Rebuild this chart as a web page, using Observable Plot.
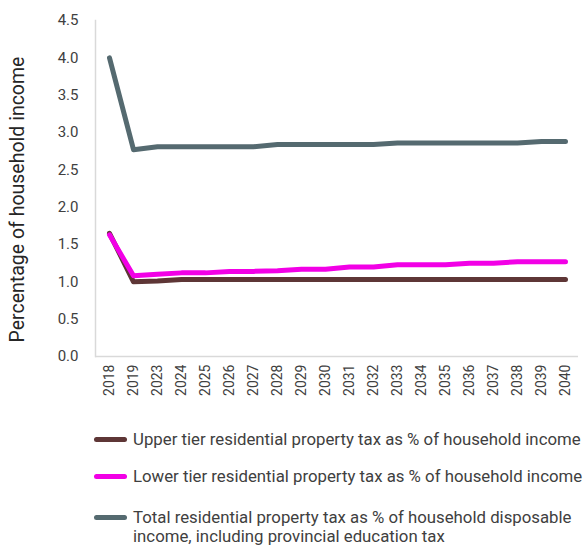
<!DOCTYPE html>
<html>
<head>
<meta charset="utf-8">
<script src="https://cdn.jsdelivr.net/npm/d3@7"></script>
<script src="https://cdn.jsdelivr.net/npm/@observablehq/plot@0.6"></script>
<style>
  body { margin: 0; background: #fff; font-family: Roboto, "Noto Sans", sans-serif; }
  #chart { width: 584px; }
  .legend { margin-left: 94px; color: #404040; font-size: 16.8px; }
  .row { display: flex; align-items: flex-start; }
  .sw { width: 33px; height: 5px; border-radius: 3px; flex: none; margin-right: 6px; }
  .txt { line-height: 19px; width: 451px; }
</style>
</head>
<body>
<div id="chart"></div>
<script>
const years = ["2018","2019","2023","2024","2025","2026","2027","2028","2029","2030","2031","2032","2033","2034","2035","2036","2037","2038","2039","2040"];
const upperTier = [1.65,1.00,1.01,1.03,1.03,1.03,1.03,1.03,1.03,1.03,1.03,1.03,1.03,1.03,1.03,1.03,1.03,1.03,1.03,1.03];
const lowerTier = [1.63,1.08,1.10,1.12,1.12,1.14,1.14,1.15,1.17,1.17,1.20,1.20,1.23,1.23,1.23,1.25,1.25,1.27,1.27,1.27];
const totalTax  = [4.00,2.77,2.81,2.81,2.81,2.81,2.81,2.84,2.84,2.84,2.84,2.84,2.86,2.86,2.86,2.86,2.86,2.86,2.88,2.88];
const seriesNames = [
  "Upper tier residential property tax as % of household income",
  "Lower tier residential property tax as % of household income",
  "Total residential property tax as % of household disposable income, including provincial education tax"
];
const seriesColors = ["#5e3636", "#f200e6", "#556a70"];
const yTicks = [0,0.5,1,1.5,2,2.5,3,3.5,4,4.5];
const yLabel = "Percentage of household income";

const seriesValues = [upperTier, lowerTier, totalTax];
const rows = [];
// draw total first, then upper, then lower on top
[2, 0, 1].forEach(si => {
  years.forEach((yr, i) => rows.push({year: yr, value: seriesValues[si][i], series: seriesNames[si]}));
});

const plot = Plot.plot({
  width: 584,
  height: 410,
  marginLeft: 95,
  marginRight: 6,
  marginTop: 20,
  marginBottom: 54,
  style: {fontFamily: "Roboto, 'Noto Sans', sans-serif", color: "#404040"},
  x: {type: "point", domain: years, padding: 0.5},
  y: {domain: [0, 4.5]},
  color: {domain: seriesNames, range: seriesColors},
  marks: [
    Plot.ruleY([0], {stroke: "#d9d9d9", strokeWidth: 1.5}),
    Plot.frame({anchor: "left", stroke: "#d9d9d9", strokeWidth: 1.5}),
    Plot.axisY({ticks: yTicks, tickFormat: d3.format(".1f"), tickSize: 0, tickPadding: 17, fontSize: 15, label: null, fill: "#404040"}),
    Plot.axisX({tickRotate: -90, tickSize: 0, tickPadding: 8, fontSize: 14, label: null, fill: "#404040", style: {letterSpacing: "0.9px"}}),
    Plot.text([yLabel], {frameAnchor: "left", textAnchor: "middle", dx: -78, dy: 11, rotate: -90, fontSize: 19.5, fill: "#262626", style: {letterSpacing: "1.2px"}}),
    Plot.line(rows, {x: "year", y: "value", z: "series", stroke: "series", strokeWidth: 5, strokeLinecap: "round", strokeLinejoin: "round"})
  ]
});
document.getElementById("chart").appendChild(plot);

const legend = document.createElement("div");
legend.className = "legend";
const tops = [20, 18, 22];
seriesNames.forEach((name, i) => {
  const row = document.createElement("div");
  row.className = "row";
  row.style.marginTop = tops[i] + "px";
  const sw = document.createElement("div");
  sw.className = "sw";
  sw.style.background = seriesColors[i];
  sw.style.marginTop = "7px";
  const t = document.createElement("div");
  t.className = "txt";
  t.textContent = name;
  row.appendChild(sw);
  row.appendChild(t);
  legend.appendChild(row);
});
document.getElementById("chart").appendChild(legend);
</script>
</body>
</html>
